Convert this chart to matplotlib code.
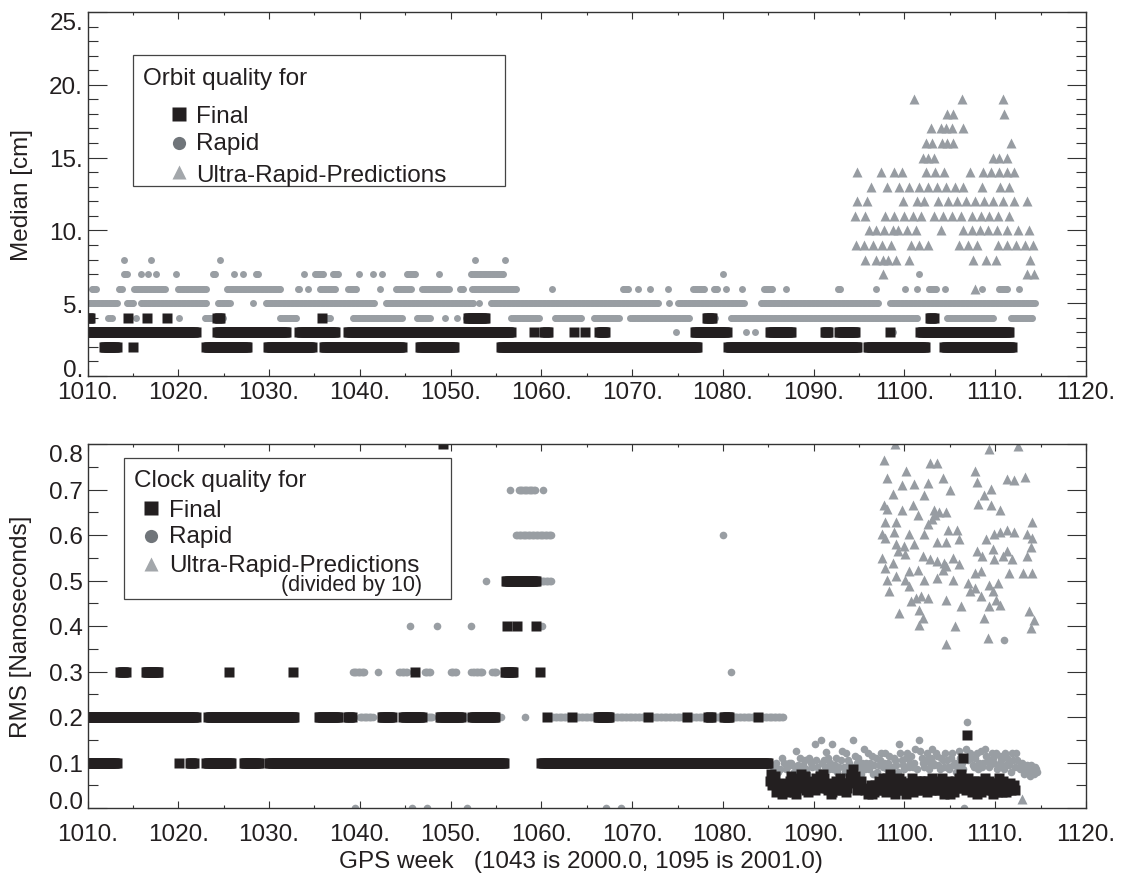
import numpy as np
import matplotlib
matplotlib.use('Agg')
import matplotlib.pyplot as plt
from matplotlib.patches import Rectangle
from matplotlib.lines import Line2D
from matplotlib.ticker import MultipleLocator, FuncFormatter, FixedLocator

plt.rcParams['font.family'] = ['Liberation Sans', 'DejaVu Sans']

INK = '#231f20'
DOT = '#999ea3'
TRI = '#979ca2'
FS = 17.5

# ---------------- data ----------------
# runs of daily solutions: (first week, last week, value)
orbit_final_runs = [
    (1010.0, 1010.3, 4), (1014.5, 1014.5, 4), (1016.55, 1016.55, 4), (1018.8, 1018.8, 4),
    (1024.3, 1024.6, 4), (1035.8, 1035.8, 4), (1051.9, 1053.8, 4), (1078.2, 1078.8, 4),
    (1102.8, 1103.2, 4),
    (1010.0, 1021.9, 3), (1024.3, 1031.9, 3), (1033.35, 1037.3, 3), (1038.7, 1056.6, 3),
    (1059.15, 1059.15, 3), (1060.3, 1060.7, 3), (1063.6, 1063.6, 3), (1064.8, 1064.8, 3),
    (1066.4, 1067.05, 3), (1076.9, 1080.4, 3), (1085.2, 1087.5, 3), (1091.2, 1091.6, 3),
    (1092.8, 1094.6, 3), (1098.4, 1098.4, 3), (1101.75, 1111.5, 3),
    (1011.8, 1013.2, 2), (1015.0, 1015.0, 2), (1023.1, 1027.6, 2), (1029.9, 1034.7, 2),
    (1036.0, 1044.6, 2), (1046.6, 1050.4, 2), (1055.5, 1077.2, 2), (1080.6, 1094.8, 2),
    (1096.0, 1102.3, 2), (1104.4, 1111.8, 2),
]

orbit_rapid_runs = [
    (1014.05, 1014.05, 8), (1016.99, 1016.99, 8), (1024.6, 1024.6, 8), (1052.67, 1052.67, 8),
    (1056.0, 1056.0, 8),
    (1014.0, 1014.35, 7), (1015.85, 1015.85, 7), (1016.65, 1016.65, 7), (1017.6, 1017.6, 7),
    (1019.8, 1019.8, 7), (1023.8, 1024.1, 7), (1026.1, 1026.1, 7), (1027.1, 1027.1, 7),
    (1028.55, 1028.8, 7), (1033.8, 1033.8, 7), (1035.05, 1035.95, 7), (1037.0, 1037.6, 7),
    (1039.9, 1039.9, 7), (1041.4, 1041.4, 7), (1042.4, 1042.4, 7), (1045.15, 1046.1, 7),
    (1048.7, 1048.7, 7), (1052.25, 1055.8, 7), (1080.0, 1080.0, 7), (1101.6, 1101.6, 7),
    (1010.45, 1010.9, 6), (1013.5, 1013.75, 6), (1015.15, 1018.5, 6), (1019.95, 1023.0, 6),
    (1025.35, 1031.25, 6), (1033.15, 1033.3, 6), (1034.3, 1034.3, 6), (1035.6, 1037.3, 6),
    (1038.75, 1039.55, 6), (1042.2, 1042.2, 6), (1044.0, 1045.6, 6), (1046.9, 1049.8, 6),
    (1051.0, 1051.4, 6), (1052.4, 1057.2, 6), (1061.2, 1061.2, 6), (1069.0, 1069.55, 6),
    (1070.7, 1070.7, 6), (1072.0, 1072.0, 6), (1073.9, 1073.9, 6), (1076.75, 1077.9, 6),
    (1079.0, 1079.4, 6), (1080.3, 1080.3, 6), (1082.1, 1082.1, 6), (1084.55, 1085.45, 6),
    (1087.0, 1087.0, 6), (1092.65, 1092.95, 6), (1096.9, 1096.9, 6), (1100.05, 1100.05, 6),
    (1101.35, 1101.35, 6), (1102.7, 1103.5, 6), (1104.45, 1104.45, 6), (1108.5, 1108.5, 6),
    (1110.4, 1111.3, 6), (1112.65, 1112.65, 6),
    (1010.0, 1013.2, 5), (1014.35, 1015.05, 5), (1015.9, 1023.1, 5), (1024.35, 1025.65, 5),
    (1028.2, 1028.2, 5), (1029.65, 1041.55, 5), (1042.85, 1052.45, 5), (1053.15, 1053.15, 5),
    (1054.45, 1072.85, 5), (1074.1, 1074.1, 5), (1075.1, 1082.3, 5), (1084.2, 1097.1, 5),
    (1098.45, 1114.35, 5),
    (1012.3, 1012.65, 4), (1015.35, 1015.35, 4), (1020.05, 1020.05, 4), (1022.95, 1024.95, 4),
    (1031.2, 1033.0, 4), (1035.9, 1036.7, 4), (1039.2, 1044.6, 4), (1046.3, 1047.7, 4),
    (1049.4, 1049.4, 4), (1050.7, 1050.7, 4), (1051.75, 1051.75, 4), (1056.7, 1059.7, 4),
    (1061.5, 1064.4, 4), (1065.8, 1068.5, 4), (1069.8, 1076.3, 4), (1078.2, 1079.1, 4),
    (1080.9, 1101.4, 4), (1104.7, 1109.8, 4), (1111.7, 1114.1, 4),
    (1056.8, 1056.8, 3), (1074.85, 1074.85, 3), (1082.5, 1082.5, 3), (1083.5, 1083.5, 3),
    (1098.75, 1098.75, 3), (1106.35, 1106.35, 3),
]

ultra_orbit_levels = [19, 18, 17, 16, 15, 14, 13, 12, 11, 10, 9, 8, 7, 6]
ultra_orbit_weeks = [
    [1101.0, 1106.3, 1110.9],
    [1104.7, 1105.3, 1111.0],
    [1102.95, 1104.0, 1104.6, 1105.2, 1106.4],
    [1102.4, 1103.0, 1104.1, 1104.7, 1105.4, 1111.7],
    [1102.0, 1102.6, 1103.2, 1109.7, 1110.45, 1111.3],
    [1094.75, 1097.4, 1098.8, 1099.7, 1102.4, 1103.4, 1104.4, 1107.2, 1108.6, 1109.5,
     1110.45, 1111.3, 1112.1],
    [1096.3, 1098.1, 1099.4, 1100.5, 1101.65, 1102.6, 1103.6, 1104.6, 1105.6, 1106.4,
     1108.55, 1110.5, 1111.5],
    [1094.8, 1095.9, 1099.8, 1101.4, 1102.2, 1103.75, 1104.8, 1105.8, 1106.8, 1107.8,
     1108.75, 1109.7, 1110.9, 1112.1, 1113.5],
    [1094.5, 1095.7, 1097.9, 1098.9, 1099.9, 1100.9, 1101.85, 1103.2, 1104.2, 1105.2,
     1106.2, 1107.4, 1108.4, 1109.35, 1110.3, 1111.5],
    [1096.1, 1096.9, 1097.8, 1098.7, 1099.3, 1100.3, 1101.25, 1104.0, 1106.5, 1107.4,
     1108.35, 1109.15, 1110.2, 1111.3, 1112.5, 1113.7],
    [1094.7, 1095.5, 1096.5, 1097.5, 1098.5, 1100.7, 1101.65, 1102.55, 1106.0, 1107.0,
     1108.0, 1110.3, 1111.3, 1112.3, 1113.3, 1114.2],
    [1095.7, 1096.9, 1097.6, 1098.2, 1099.1, 1100.5, 1107.5, 1109.0, 1110.1, 1113.8],
    [1097.6, 1113.5, 1114.3],
    [1107.8],
]

clock_final_runs = [
    (1049.2, 1049.2, 0.8),
    (1056.1, 1059.4, 0.5),
    (1056.2, 1056.2, 0.4), (1057.3, 1057.3, 0.4), (1059.4, 1059.4, 0.4),
    (1013.6, 1014.2, 0.3), (1016.4, 1017.8, 0.3), (1025.6, 1025.6, 0.3), (1032.6, 1032.6, 0.3),
    (1046.1, 1046.1, 0.3), (1056.0, 1056.9, 0.3), (1059.8, 1059.8, 0.3),
    (1010.0, 1021.9, 0.2), (1023.3, 1032.8, 0.2), (1035.5, 1037.6, 0.2), (1038.7, 1039.1, 0.2),
    (1042.4, 1043.5, 0.2), (1044.8, 1046.8, 0.2), (1048.8, 1051.1, 0.2), (1052.4, 1054.9, 0.2),
    (1060.6, 1060.6, 0.2), (1063.4, 1063.4, 0.2), (1066.2, 1067.5, 0.2), (1071.7, 1071.7, 0.2),
    (1076.0, 1076.0, 0.2), (1078.4, 1078.7, 0.2), (1080.1, 1080.7, 0.2), (1083.9, 1083.9, 0.2),
    (1010.0, 1013.2, 0.1), (1020.05, 1020.05, 0.1), (1021.3, 1021.7, 0.1), (1023.1, 1025.85, 0.1),
    (1027.2, 1028.9, 0.1), (1030.0, 1055.9, 0.1), (1060.0, 1085.0, 0.1),
]

# scattered final clock solutions after week 1085
clock_final_cloud_week = [
    1085.15, 1085.3, 1085.45, 1085.6, 1085.75, 1085.9, 1086.05, 1086.2, 1086.35, 1086.5,
    1086.65, 1086.8, 1086.95, 1087.1, 1087.25, 1087.4, 1087.55, 1087.7, 1087.85, 1088.0,
    1088.15, 1088.3, 1088.45, 1088.6, 1088.75, 1088.9, 1089.05, 1089.2, 1089.35, 1089.5,
    1089.65, 1089.8, 1089.95, 1090.1, 1090.25, 1090.4, 1090.55, 1090.7, 1090.85, 1091.0,
    1091.15, 1091.3, 1091.45, 1091.6, 1091.75, 1091.9, 1092.05, 1092.2, 1092.35, 1092.5,
    1092.65, 1092.8, 1092.95, 1093.1, 1093.25, 1093.4, 1093.55, 1093.7, 1093.85, 1094.0,
    1094.15, 1094.3, 1094.45, 1094.6, 1094.75, 1094.9, 1095.05, 1095.2,
    1095.7, 1095.85, 1096.0, 1096.15, 1096.3, 1096.45, 1096.6, 1096.75, 1096.9, 1097.05,
    1097.2, 1097.35, 1097.5, 1097.65, 1097.8, 1097.95, 1098.1, 1098.25, 1098.4, 1098.55,
    1098.7, 1098.85, 1099.0, 1099.15, 1099.3, 1099.45, 1099.6, 1099.75, 1099.9, 1100.05,
    1100.2, 1100.35, 1100.5, 1100.65, 1100.8, 1100.95, 1101.1, 1101.25, 1101.4, 1101.55,
    1101.7, 1101.85, 1102.0, 1102.15, 1102.3, 1102.45, 1102.6, 1102.75, 1102.9, 1103.05,
    1103.2, 1103.35, 1103.5, 1103.65, 1103.8, 1103.95, 1104.1, 1104.25, 1104.4, 1104.55,
    1104.7, 1104.85, 1105.0, 1105.15, 1105.3, 1105.45, 1105.6, 1105.75, 1105.9, 1106.05,
    1106.2, 1106.35, 1106.5, 1106.65, 1106.8, 1106.95, 1107.1, 1107.25, 1107.4, 1107.55,
    1107.7, 1107.85, 1108.0, 1108.15, 1108.3, 1108.45, 1108.6, 1108.75, 1108.9, 1109.05,
    1109.2, 1109.35, 1109.5, 1109.65, 1109.8, 1109.95, 1110.1, 1110.25, 1110.4, 1110.55,
    1110.7, 1110.85, 1111.0, 1111.15, 1111.3, 1111.45, 1111.6, 1111.75, 1111.9, 1112.05,
    1112.2,
    1106.4, 1106.9,
]
clock_final_cloud_ns = [
    0.060, 0.075, 0.050, 0.060, 0.070, 0.035, 0.040, 0.045, 0.055, 0.030,
    0.040, 0.050, 0.035, 0.040, 0.050, 0.060, 0.070, 0.045, 0.035, 0.030,
    0.045, 0.055, 0.065, 0.075, 0.050, 0.060, 0.070, 0.040, 0.035, 0.050,
    0.045, 0.060, 0.050, 0.040, 0.065, 0.055, 0.045, 0.070, 0.060, 0.075,
    0.065, 0.050, 0.045, 0.040, 0.055, 0.030, 0.035, 0.045, 0.050, 0.060,
    0.040, 0.050, 0.065, 0.040, 0.045, 0.055, 0.035, 0.045, 0.055, 0.065,
    0.075, 0.085, 0.060, 0.070, 0.040, 0.050, 0.055, 0.060,
    0.040, 0.045, 0.030, 0.040, 0.050, 0.030, 0.035, 0.050, 0.045, 0.040,
    0.060, 0.050, 0.040, 0.065, 0.050, 0.035, 0.065, 0.055, 0.075, 0.060,
    0.040, 0.050, 0.030, 0.040, 0.050, 0.065, 0.060, 0.045, 0.040, 0.055,
    0.030, 0.040, 0.055, 0.045, 0.065, 0.035, 0.050, 0.060, 0.040, 0.050,
    0.060, 0.040, 0.050, 0.060, 0.045, 0.035, 0.060, 0.050, 0.040, 0.065,
    0.055, 0.040, 0.050, 0.060, 0.040, 0.050, 0.065, 0.045, 0.030, 0.040,
    0.045, 0.060, 0.030, 0.045, 0.050, 0.035, 0.060, 0.050, 0.045, 0.065,
    0.075, 0.045, 0.060, 0.050, 0.040, 0.065, 0.050, 0.045, 0.035, 0.055,
    0.060, 0.040, 0.030, 0.060, 0.050, 0.035, 0.045, 0.055, 0.065, 0.050,
    0.040, 0.060, 0.055, 0.040, 0.030, 0.055, 0.045, 0.035, 0.065, 0.050,
    0.035, 0.060, 0.050, 0.035, 0.040, 0.050, 0.055, 0.040, 0.045, 0.050,
    0.040,
    0.110, 0.160,
]

clock_rapid_runs = [
    (1056.5, 1056.5, 0.7), (1057.5, 1059.3, 0.7), (1060.2, 1060.2, 0.7),
    (1057.2, 1061.1, 0.6), (1080.0, 1080.0, 0.6),
    (1053.9, 1053.9, 0.5), (1059.9, 1061.05, 0.5),
    (1045.5, 1045.5, 0.4), (1048.5, 1048.5, 0.4), (1052.3, 1052.3, 0.4), (1060.1, 1060.1, 0.4),
    (1039.2, 1040.5, 0.3), (1042.0, 1042.0, 0.3), (1044.3, 1045.2, 0.3), (1047.2, 1047.7, 0.3),
    (1050.0, 1050.6, 0.3), (1052.3, 1053.5, 0.3), (1054.6, 1055.0, 0.3), (1080.85, 1080.85, 0.3),
    (1010.2, 1010.2, 0.2), (1040.0, 1041.4, 0.2), (1047.2, 1048.0, 0.2), (1051.7, 1051.7, 0.2),
    (1055.5, 1055.5, 0.2), (1058.2, 1058.2, 0.2), (1060.9, 1086.6, 0.2),
    (1039.45, 1039.45, 0.0), (1045.7, 1045.7, 0.0), (1047.4, 1047.4, 0.0), (1051.8, 1051.8, 0.0),
    (1067.1, 1067.1, 0.0), (1068.8, 1068.8, 0.0), (1106.6, 1106.6, 0.0),
    (1111.0, 1111.0, 0.37),
]

# scattered rapid clock solutions after week 1085
clock_rapid_cloud_week = [
    1085.5, 1085.7, 1085.9, 1086.1, 1086.3, 1086.5, 1086.7, 1086.9, 1087.1, 1087.3,
    1087.5, 1087.65, 1087.8, 1088.0, 1088.15, 1088.3, 1088.45, 1088.6, 1088.8, 1089.0,
    1089.15, 1089.3, 1089.5, 1089.7, 1089.85, 1090.1, 1090.25, 1090.4, 1090.6, 1090.8,
    1090.95, 1091.1, 1091.25, 1091.4, 1091.55, 1091.7, 1091.85, 1092.0, 1092.15, 1092.3,
    1092.45, 1092.6, 1092.8, 1093.0, 1093.15, 1093.3, 1093.45, 1093.6, 1093.75, 1093.9,
    1094.1, 1094.35, 1094.5, 1094.6, 1094.75, 1094.9, 1095.05, 1095.2, 1095.35, 1095.5,
    1095.65, 1095.8, 1095.95, 1096.1, 1096.25, 1096.4, 1096.55, 1096.7, 1096.85, 1097.0,
    1097.15, 1097.3, 1097.45, 1097.6, 1097.75, 1097.9, 1098.05, 1098.2, 1098.35, 1098.5,
    1098.65, 1098.8, 1098.95, 1099.1, 1099.25, 1099.4, 1099.55, 1099.7, 1099.85, 1100.0,
    1100.15, 1100.3, 1100.45, 1100.6, 1100.75, 1100.9, 1101.05, 1101.2, 1101.4, 1101.6,
    1101.75, 1101.9, 1102.05, 1102.2, 1102.35, 1102.5, 1102.65, 1102.8, 1102.95, 1103.0,
    1103.15, 1103.3, 1103.45, 1103.6, 1103.75, 1103.9, 1104.05, 1104.2, 1104.35, 1104.5,
    1104.65, 1104.8, 1104.95, 1105.1, 1105.25, 1105.4, 1105.55, 1105.7, 1105.85, 1106.0,
    1106.15, 1106.3, 1106.45, 1106.75, 1106.9, 1107.05, 1107.2, 1107.35, 1107.5, 1107.65,
    1107.8, 1107.95, 1108.1, 1108.25, 1108.4, 1108.55, 1108.7, 1108.85, 1109.0, 1109.15,
    1109.3, 1109.45, 1109.6, 1109.75, 1109.9, 1110.05, 1110.2, 1110.35, 1110.5, 1110.65,
    1110.8, 1110.95, 1111.1, 1111.25, 1111.4, 1111.55, 1111.7, 1111.85, 1112.0, 1112.15,
    1112.3, 1112.45, 1112.6, 1112.75, 1112.9, 1113.05, 1113.2, 1113.35, 1113.5, 1113.65,
    1113.8, 1113.95, 1114.1, 1114.25, 1114.4, 1114.5, 1114.6,
]
clock_rapid_cloud_ns = [
    0.090, 0.095, 0.100, 0.080, 0.085, 0.110, 0.100, 0.085, 0.090, 0.100,
    0.100, 0.095, 0.080, 0.125, 0.090, 0.095, 0.110, 0.085, 0.095, 0.105,
    0.085, 0.075, 0.110, 0.100, 0.090, 0.140, 0.105, 0.090, 0.080, 0.150,
    0.100, 0.105, 0.090, 0.122, 0.110, 0.085, 0.100, 0.140, 0.085, 0.095,
    0.110, 0.080, 0.090, 0.105, 0.125, 0.090, 0.080, 0.120, 0.105, 0.100,
    0.090, 0.150, 0.115, 0.090, 0.100, 0.110, 0.090, 0.075, 0.100, 0.130,
    0.085, 0.100, 0.120, 0.085, 0.100, 0.115, 0.075, 0.095, 0.110, 0.080,
    0.095, 0.105, 0.120, 0.090, 0.100, 0.120, 0.085, 0.100, 0.115, 0.085,
    0.090, 0.110, 0.105, 0.095, 0.080, 0.140, 0.120, 0.105, 0.095, 0.085,
    0.110, 0.120, 0.090, 0.100, 0.115, 0.090, 0.100, 0.130, 0.085, 0.150,
    0.125, 0.110, 0.100, 0.090, 0.105, 0.120, 0.085, 0.100, 0.110, 0.130,
    0.100, 0.095, 0.120, 0.115, 0.095, 0.085, 0.110, 0.105, 0.090, 0.120,
    0.105, 0.090, 0.085, 0.110, 0.120, 0.095, 0.100, 0.080, 0.090, 0.125,
    0.110, 0.100, 0.085, 0.130, 0.190, 0.105, 0.120, 0.110, 0.095, 0.090,
    0.110, 0.120, 0.085, 0.100, 0.125, 0.090, 0.100, 0.130, 0.115, 0.105,
    0.090, 0.095, 0.120, 0.110, 0.100, 0.120, 0.085, 0.095, 0.115, 0.105,
    0.095, 0.085, 0.120, 0.110, 0.100, 0.095, 0.080, 0.120, 0.105, 0.090,
    0.120, 0.105, 0.090, 0.085, 0.100, 0.095, 0.075, 0.085, 0.095, 0.080,
    0.070, 0.095, 0.085, 0.075, 0.090, 0.085, 0.080,
]

# ultra-rapid clock predictions, already divided by 10
ultra_clock_week = [
    1099.0, 1109.35, 1112.5, 1097.8, 1102.8, 1103.6, 1107.8, 1100.2, 1113.3, 1098.1,
    1104.2, 1111.3, 1112.1, 1108.0, 1099.7, 1101.1, 1102.6, 1098.7, 1105.0, 1109.5,
    1102.2, 1108.75, 1097.7, 1098.1, 1099.7, 1100.9, 1103.2, 1103.8, 1104.6, 1108.1,
    1109.5, 1110.5, 1101.45, 1102.6, 1103.0, 1103.4, 1097.9, 1114.1, 1099.1, 1104.8,
    1102.2, 1097.5, 1100.5, 1098.9, 1105.8, 1109.9, 1110.5, 1111.3, 1112.1, 1113.5,
    1097.9, 1108.95, 1114.1, 1103.6, 1104.6, 1106.0, 1099.1, 1099.9, 1101.1, 1109.7,
    1108.0, 1111.3, 1113.9, 1099.3, 1100.1, 1102.0, 1105.4, 1097.5, 1098.7, 1102.8,
    1103.6, 1104.4, 1108.55, 1109.9, 1110.9, 1111.9, 1113.5, 1097.9, 1100.5, 1101.45,
    1104.2, 1104.6, 1106.0, 1107.8, 1108.4, 1113.1, 1114.1, 1111.5, 1098.1, 1099.1,
    1100.1, 1102.2, 1103.6, 1105.4, 1107.0, 1109.35, 1110.3, 1098.3, 1100.5, 1107.2,
    1107.8, 1109.7, 1101.3, 1101.85, 1102.6, 1108.4, 1110.1, 1100.7, 1104.6, 1106.2,
    1109.35, 1110.5, 1101.65, 1099.4, 1113.7, 1102.05, 1108.75, 1114.3, 1101.65, 1105.6,
    1113.9, 1109.15, 1104.6, 1112.95,
]
ultra_clock_ns = [
    0.800, 0.790, 0.795, 0.765, 0.758, 0.758, 0.740, 0.740, 0.728, 0.726,
    0.726, 0.724, 0.720, 0.717, 0.710, 0.713, 0.715, 0.690, 0.700, 0.702,
    0.687, 0.687, 0.665, 0.658, 0.654, 0.667, 0.654, 0.650, 0.650, 0.669,
    0.665, 0.654, 0.643, 0.624, 0.636, 0.643, 0.628, 0.628, 0.628, 0.610,
    0.602, 0.602, 0.602, 0.606, 0.610, 0.602, 0.606, 0.610, 0.607, 0.602,
    0.593, 0.591, 0.593, 0.585, 0.585, 0.591, 0.580, 0.576, 0.580, 0.569,
    0.565, 0.565, 0.573, 0.565, 0.558, 0.554, 0.550, 0.550, 0.539, 0.547,
    0.543, 0.539, 0.554, 0.547, 0.554, 0.547, 0.554, 0.528, 0.521, 0.524,
    0.524, 0.532, 0.536, 0.517, 0.521, 0.517, 0.517, 0.517, 0.502, 0.510,
    0.502, 0.502, 0.506, 0.502, 0.495, 0.491, 0.495, 0.476, 0.487, 0.476,
    0.484, 0.476, 0.461, 0.465, 0.461, 0.465, 0.458, 0.454, 0.458, 0.443,
    0.443, 0.447, 0.436, 0.428, 0.432, 0.417, 0.417, 0.413, 0.402, 0.399,
    0.395, 0.373, 0.361, 0.020,
]

orbit_yticks = [0, 5, 10, 15, 20, 25]
clock_yticks = [0.0, 0.1, 0.2, 0.3, 0.4, 0.5, 0.6, 0.7, 0.8]


def expand(runs):
    # one solution per day inside each run
    xs, ys = [], []
    for a, b, v in runs:
        n = int(round((b - a) * 7)) + 1
        xs.extend(np.linspace(a, b, n))
        ys.extend([v] * n)
    return np.array(xs), np.array(ys)


W, H = 1121, 878
fig = plt.figure(figsize=(W / 100, H / 100), dpi=100)


def fx(px):
    return px / W


def fy(py):
    return 1 - py / H


ax1 = fig.add_axes([fx(87.5), fy(377), fx(1086) - fx(87.5), fy(13) - fy(377)])
ax2 = fig.add_axes([fx(87.5), fy(809), fx(1086) - fx(87.5), fy(445) - fy(809)])

# top: orbits
x, y = expand(orbit_rapid_runs)
ax1.plot(x, y, 'o', ms=5, color=DOT, mec='none')
x, y = expand(orbit_final_runs)
ax1.plot(x, y, 's', ms=6.6, color=INK, mec='none')
for lev, wks in zip(ultra_orbit_levels, ultra_orbit_weeks):
    ax1.plot(wks, [lev] * len(wks), '^', ms=7.4, color=TRI, mec='none')

# bottom: clocks
x, y = expand(clock_rapid_runs)
ax2.plot(x, y, 'o', ms=5.5, color=DOT, mec='none')
ax2.plot(clock_rapid_cloud_week, clock_rapid_cloud_ns, 'o', ms=5.5, color=DOT, mec='none')
x, y = expand(clock_final_runs)
ax2.plot(x, y, 's', ms=6.8, color=INK, mec='none')
ax2.plot(clock_final_cloud_week, clock_final_cloud_ns, 's', ms=6.8, color=INK, mec='none')
ax2.plot(ultra_clock_week, ultra_clock_ns, '^', ms=7.6, color=TRI, mec='none')

for ax in (ax1, ax2):
    ax.set_xlim(1010, 1120)
    ax.xaxis.set_major_locator(MultipleLocator(10))
    ax.xaxis.set_minor_locator(MultipleLocator(5))
    ax.xaxis.set_major_formatter(FuncFormatter(lambda v, p: '%d.' % round(v)))
    ax.tick_params(which='both', direction='in', top=True, right=True,
                   width=0.8, color='#333333', labelsize=FS, labelcolor=INK)
    ax.tick_params(axis='x', which='major', length=5)
    ax.tick_params(axis='x', which='minor', length=2.5)
    ax.tick_params(axis='y', which='major', length=13.5, pad=3.2)
    ax.tick_params(axis='y', which='minor', length=7)
    for s in ax.spines.values():
        s.set_linewidth(1.0)
        s.set_color('#333333')

ax1.tick_params(axis='x', which='major', pad=3.8)
ax2.tick_params(axis='x', which='major', pad=11)

ax1.set_ylim(0, 25)
ax1.yaxis.set_major_locator(FixedLocator(orbit_yticks))
ax1.yaxis.set_minor_locator(MultipleLocator(1))
ax1.yaxis.set_major_formatter(FuncFormatter(lambda v, p: '%d.' % round(v)))

ax2.set_ylim(0, 0.8)
ax2.yaxis.set_major_locator(FixedLocator(clock_yticks))
ax2.yaxis.set_minor_locator(MultipleLocator(0.05))
ax2.yaxis.set_major_formatter(FuncFormatter(lambda v, p: '%.1f' % v))

# end labels pulled inside the axis range, as in the original
for ax in (ax1, ax2):
    ticks = ax.yaxis.get_major_ticks()
    ticks[0].label1.set_va('baseline')
    ticks[-1].label1.set_va('top')

fig.text(fx(22), fy(195), 'Median [cm]', rotation=90, ha='center', va='center',
         fontsize=FS, color=INK)
fig.text(fx(21), fy(627), 'RMS [Nanoseconds]', rotation=90, ha='center', va='center',
         fontsize=FS, color=INK)
fig.text(fx(339), fy(868), 'GPS week   (1043 is 2000.0, 1095 is 2001.0)',
         ha='left', va='baseline', fontsize=FS, color=INK)


def legend_box(x0, y0, x1, y1, title, tx, ty, mx, my, lx, ly):
    fig.add_artist(Rectangle((fx(x0), fy(y1)), fx(x1) - fx(x0), fy(y0) - fy(y1),
                             transform=fig.transFigure, fill=False,
                             ec='#444444', lw=0.9))
    fig.text(fx(tx), fy(ty), title, ha='left', va='baseline', fontsize=FS, color=INK)
    styles = [('s', INK, 9.8), ('o', '#70757a', 9.5), ('^', '#a3a7ab', 10)]
    names = ['Final', 'Rapid', 'Ultra-Rapid-Predictions']
    for (m, c, s), name, yy, yl in zip(styles, names, my, ly):
        fig.add_artist(Line2D([fx(mx)], [fy(yy)], marker=m, color=c, ms=s, mec='none',
                              transform=fig.transFigure))
        fig.text(fx(lx), fy(yl), name, ha='left', va='baseline', fontsize=FS, color=INK)


legend_box(133, 56, 505, 187, 'Orbit quality for', 143, 85,
           179, [115, 144, 172.7], 196, [123.3, 150, 181.7])
legend_box(124, 459, 451, 600, 'Clock quality for', 134, 486.7,
           151, [509.3, 536.7, 565], 169, [516.7, 543.3, 571.7])
fig.text(fx(422.5), fy(591), '(divided by 10)', ha='right', va='baseline',
         fontsize=15.5, color=INK)

fig.savefig('out.png', dpi=100, facecolor='white')
